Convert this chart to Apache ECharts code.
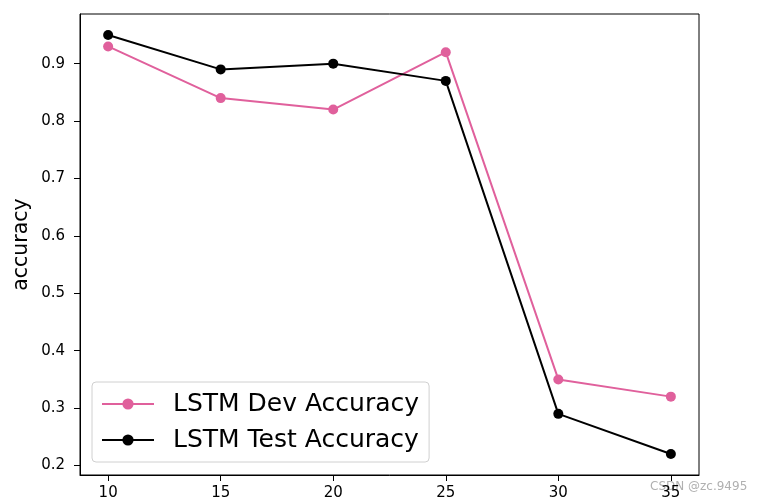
<!DOCTYPE html>
<html><head><meta charset="utf-8">
<script src="https://cdn.jsdelivr.net/npm/echarts@6/dist/echarts.min.js"></script>
<style>html,body{margin:0;padding:0;background:#fff}#c{width:760px;height:503px}</style>
</head><body><div id="c"></div>
<script>
const xValues = [10, 15, 20, 25, 30, 35];
const devAcc = [0.93, 0.84, 0.82, 0.92, 0.35, 0.32];
const testAcc = [0.95, 0.89, 0.90, 0.87, 0.29, 0.22];
const xTicks = [10, 15, 20, 25, 30, 35];
const yTicks = [0.2, 0.3, 0.4, 0.5, 0.6, 0.7, 0.8, 0.9];

const font = 'DejaVu Sans';
const chart = echarts.init(document.getElementById('c'), null, {renderer: 'canvas'});
chart.setOption({
  animation: false,
  backgroundColor: '#fff',
  grid: {left: 80, right: 61, top: 14, bottom: 28, show: true, borderColor: '#000', borderWidth: 1},
  xAxis: {
    type: 'value', min: 8.75, max: 36.25,
    axisLine: {show: true, lineStyle: {color: '#000', width: 1}},
    axisTick: {show: true, length: 6, lineStyle: {color: '#000'}, customValues: xTicks},
    axisLabel: {color: '#000', fontFamily: font, fontSize: 15, margin: 11, customValues: xTicks, formatter: v => String(v)},
    splitLine: {show: false}
  },
  yAxis: {
    type: 'value', min: 0.1835, max: 0.9865,
    name: 'accuracy', nameLocation: 'middle', nameGap: 48, nameMoveOverlap: false,
    nameTextStyle: {color: '#000', fontFamily: font, fontSize: 20.5},
    axisLine: {show: true, lineStyle: {color: '#000', width: 1}},
    axisTick: {show: true, length: 6, lineStyle: {color: '#000'}, customValues: yTicks},
    axisLabel: {color: '#000', fontFamily: font, fontSize: 15, margin: 15, customValues: yTicks, formatter: v => v.toFixed(1)},
    splitLine: {show: false}
  },
  legend: {
    left: 92, top: 382, orient: 'vertical',
    backgroundColor: '#fff', borderColor: '#d0d0d0', borderWidth: 1, borderRadius: 4,
    padding: [9, 10, 9, 9], itemGap: 10, itemWidth: 52, itemHeight: 14,
    textStyle: {color: '#000', fontFamily: font, fontSize: 25, lineHeight: 26, padding: [0, 0, 0, 14]},
    data: ['LSTM Dev Accuracy', 'LSTM Test Accuracy']
  },
  graphic: [{
    type: 'text', left: 650, top: 481,
    style: {text: 'CSDN @zc.9495', fill: '#b0b0b0', font: '12px ' + font}
  }],
  series: [
    {name: 'LSTM Dev Accuracy', type: 'line', data: xValues.map((x, i) => [x, devAcc[i]]),
     color: '#e0609c', symbol: 'circle', symbolSize: 10, lineStyle: {width: 2}, z: 2},
    {name: 'LSTM Test Accuracy', type: 'line', data: xValues.map((x, i) => [x, testAcc[i]]),
     color: '#000000', symbol: 'circle', symbolSize: 10, lineStyle: {width: 2}, z: 3}
  ]
});
</script></body></html>
